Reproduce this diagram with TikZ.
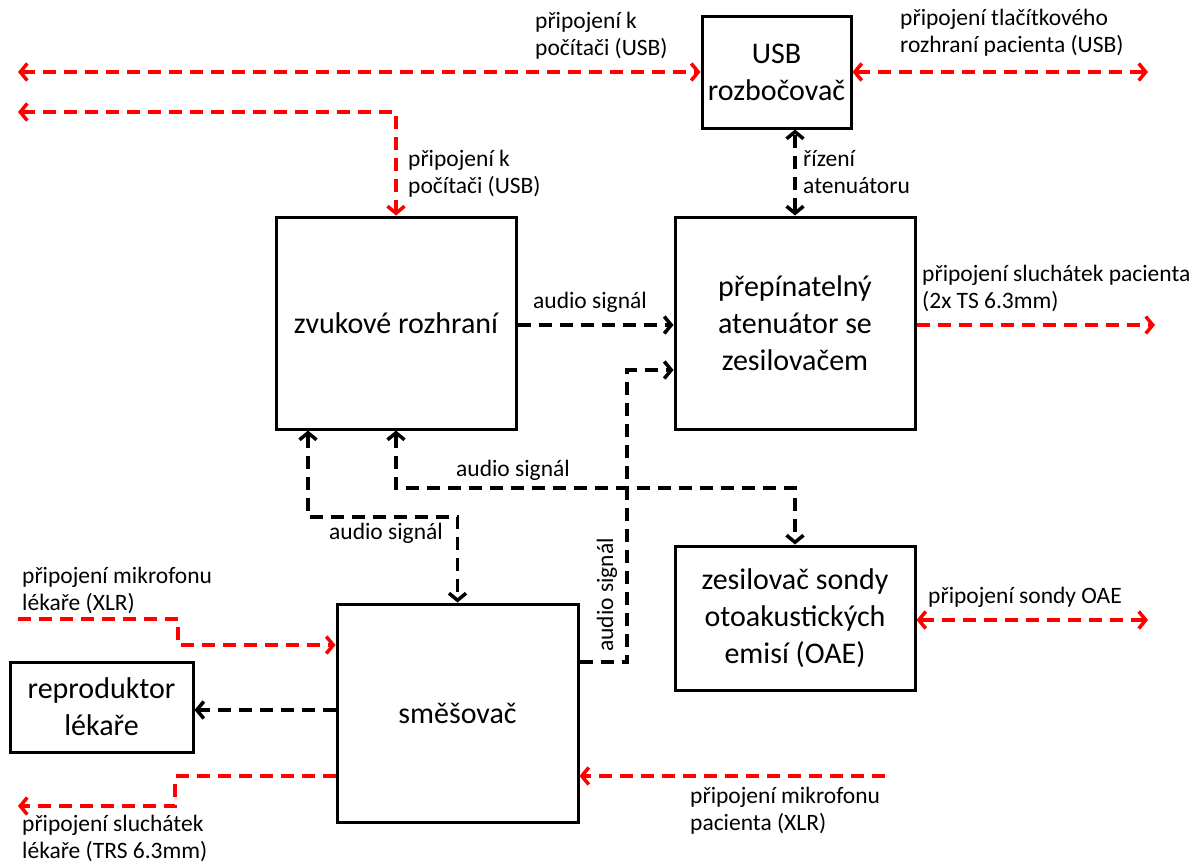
\documentclass[tikz,border=0pt]{standalone}
\usepackage{fontspec}
\setmainfont{Carlito}
\usetikzlibrary{arrows.meta}

\tikzset{
  box/.style={draw, line width=3pt, align=center, inner sep=0pt,
    font=\fontsize{30}{37}\selectfont},
  lbl/.style={align=left, inner sep=0pt, font=\fontsize{23.5}{27}\selectfont},
  sig/.style={line width=3.5pt, dash pattern=on 13pt off 8pt},
  redsig/.style={sig, red},
  blacksig/.style={sig, black},
  >={Straight Barb[length=7pt,width=17pt]}
}

\begin{document}
\begin{tikzpicture}[x=1pt, y=-1pt]
        \useasboundingbox (0,0) rectangle (1198,863);

        %%draw the boxes
        \node[box, minimum width=149, minimum height=112] (usb) at(776.5, 72){USB\\rozbočovač};
        \node[box, minimum width=240, minimum height=212] (zvuk) at(396, 323){zvukové rozhraní};
        \node[box, minimum width=240, minimum height=212] (atten) at(795, 323){přepínatelný\\atenuátor se\\zesilovačem};
        \node[box, minimum width=240, minimum height=144] (oae) at(795, 618){zesilovač sondy\\otoakustických\\emisí (OAE)};
        \node[box, minimum width=241, minimum height=218] (mix) at(457.5, 713){směšovač};
        \node[box, minimum width=183, minimum height=90] (repro) at(101.5, 707){reproduktor\\lékaře};

        %%free ends and bends
        \coordinate (pcA) at(18, 72);
        \coordinate (btn) at(1148, 72);
        \coordinate (pcB) at(18, 112);
        \coordinate (hpP) at(1155, 325);
        \coordinate (j1) at(308, 517);
        \coordinate (j2) at(795, 488);
        \coordinate (j3) at(627, 370);
        \coordinate (micD) at(18, 619);
        \coordinate (m1) at(178, 619);
        \coordinate (m2) at(175, 806);
        \coordinate (hpD) at(18, 806);
        \coordinate (micP) at(885, 776);
        \coordinate (oaeP) at(1148, 620);

        %%draw the red lines
        \draw[redsig, <->] (pcA) -- (usb.west);
        \draw[redsig, <->] (usb.east) -- (btn);
        \draw[redsig, <->] (pcB) -| (zvuk.north);
        \draw[redsig, ->] (atten.east |- hpP) -- (hpP);
        \draw[redsig, <->] (oae.east |- oaeP) -- (oaeP);
        \draw[redsig, ->] (micD) -- (m1) |- ([yshift=68pt]mix.west);
        \draw[redsig, ->] ([yshift=-63pt]mix.west) -| (m2) -- (hpD);
        \draw[redsig, ->] (micP) -- (mix.east |- micP);

        %%draw the black lines
        \draw[blacksig, <->] (atten.north -| j2) -- (usb.south -| j2);
        \draw[blacksig, ->] (zvuk.east |- hpP) -- (atten.west |- hpP);
        \draw[blacksig, <->] (zvuk.south -| j1) -- (j1) -| (mix.north);
        \draw[blacksig, <->] (zvuk.south) |- (j2) -- (oae.north);
        \draw[blacksig, ->] ([yshift=51pt]mix.east) -| (j3) -- (atten.west |- j3);
        \draw[blacksig, ->] (mix.west |- 0,710) -- (repro.east |- 0,710);

        %%labels
        \node[lbl, anchor=west] (lPcA) at(535, 36){připojení k\\počítači (USB)};
        \node[lbl, anchor=west] (lBtn) at(900, 33){připojení tlačítkového\\rozhraní pacienta (USB)};
        \node[lbl, anchor=west] (lPcB) at(408, 174){připojení k\\počítači (USB)};
        \node[lbl, anchor=west] (lCtrl) at(803, 172){řízení\\atenuátoru};
        \node[lbl] (lAud1) at(590, 302){audio signál};
        \node[lbl, anchor=west] (lHpP) at(922, 288){připojení sluchátek pacienta\\(2x TS 6.3mm)};
        \node[lbl] (lAud2) at(513, 470){audio signál};
        \node[lbl] (lAud3) at(386, 533){audio signál};
        \node[lbl, rotate=90] (lAud4) at(607, 595){audio signál};
        \node[lbl, anchor=west] (lMicD) at(22, 590){připojení mikrofonu\\lékaře (XLR)};
        \node[lbl, anchor=west] (lOae) at(928, 597){připojení sondy OAE};
        \node[lbl, anchor=west] (lHpD) at(22, 838){připojení sluchátek\\lékaře (TRS 6.3mm)};
        \node[lbl, anchor=west] (lMicP) at(690, 811){připojení mikrofonu\\pacienta (XLR)};

\end{tikzpicture}
\end{document}
